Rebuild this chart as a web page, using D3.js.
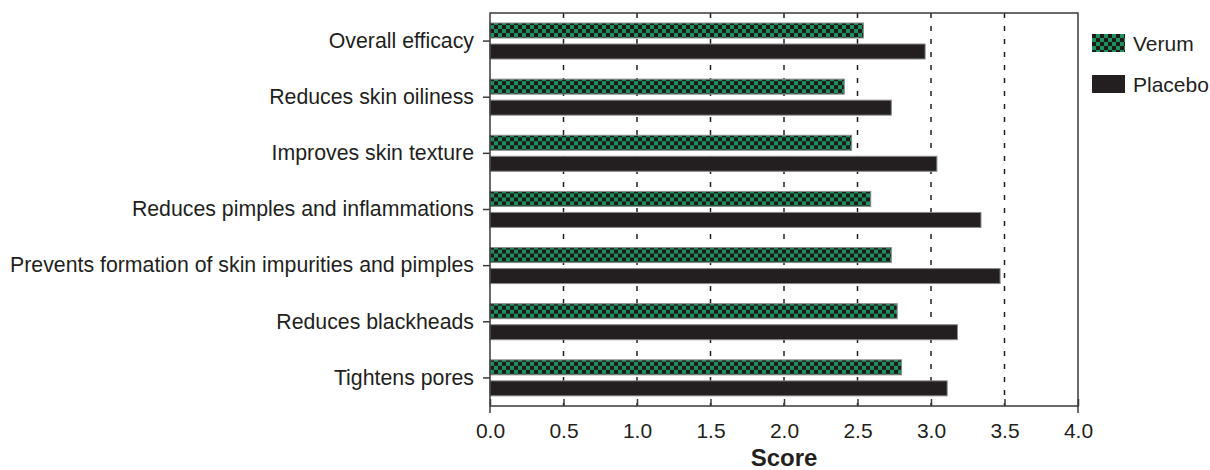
<!DOCTYPE html>
<html>
<head>
<meta charset="utf-8">
<script src="https://cdn.jsdelivr.net/npm/d3@7"></script>
<style>
  body { margin: 0; background: #fff; }
  text { font-family: Arial, "Liberation Sans", sans-serif; fill: #231f20; }
</style>
</head>
<body>
<svg id="chart"></svg>
<script>
// data
var categories = ["Overall efficacy", "Reduces skin oiliness", "Improves skin texture",
    "Reduces pimples and inflammations", "Prevents formation of skin impurities and pimples",
    "Reduces blackheads", "Tightens pores"];
var verum = [2.54, 2.41, 2.46, 2.59, 2.73, 2.77, 2.80];
var placebo = [2.96, 2.73, 3.04, 3.34, 3.47, 3.18, 3.11];
var seriesNames = ["Verum", "Placebo"];
var xTicks = [0, 0.5, 1, 1.5, 2, 2.5, 3, 3.5, 4];

function drawBarChart() {
    var width = 1210, height = 470,
        margin = {top: 13, right: 132, bottom: 64, left: 490},
        w = width - margin.left - margin.right,
        h = height - margin.top - margin.bottom;

    var svg = d3.select("#chart").attr("width", width).attr("height", height);

    // checker pattern for verum
    var pat = svg.append("defs").append("pattern")
        .attr("id", "checker").attr("patternUnits", "userSpaceOnUse")
        .attr("width", 8).attr("height", 8);
    pat.append("rect").attr("width", 8).attr("height", 8).attr("fill", "#1f8f5c");
    pat.append("rect").attr("width", 4).attr("height", 4).attr("fill", "#1c1a1b");
    pat.append("rect").attr("x", 4).attr("y", 4).attr("width", 4).attr("height", 4).attr("fill", "#1c1a1b");

    var g = svg.append("g").attr("transform", "translate(" + margin.left + "," + margin.top + ")");

    var x = d3.scaleLinear().domain([0, 4]).range([0, w]);
    var y = d3.scaleBand().domain(categories).range([0, h]).padding(0);
    var y1 = d3.scaleBand().domain(seriesNames).range([10, 46]).paddingInner(0.286).paddingOuter(0);
    var fill = {"Verum": "url(#checker)", "Placebo": "#231f20"};

    // dashed grid lines
    g.selectAll(".grid").data(xTicks.filter(function (d) { return d > 0 && d < 4; }))
        .enter().append("line")
        .attr("x1", x).attr("x2", x).attr("y1", 0).attr("y2", h)
        .attr("stroke", "#231f20").attr("stroke-width", 1.5)
        .attr("stroke-dasharray", "5,8");

    // bars
    var rows = categories.map(function (c, i) {
        return [{cat: c, s: "Verum", v: verum[i]}, {cat: c, s: "Placebo", v: placebo[i]}];
    });
    g.selectAll(".row").data(rows).enter().append("g")
        .attr("transform", function (d) { return "translate(0," + y(d[0].cat) + ")"; })
        .selectAll("rect").data(function (d) { return d; })
        .enter().append("rect")
        .attr("x", 0)
        .attr("y", function (d) { return y1(d.s); })
        .attr("width", function (d) { return x(d.v); })
        .attr("height", y1.bandwidth())
        .attr("fill", function (d) { return fill[d.s]; })
        .attr("stroke", "#8a8a8a").attr("stroke-width", 1);

    // frame
    g.append("rect").attr("width", w).attr("height", h)
        .attr("fill", "none").attr("stroke", "#3a3a3a").attr("stroke-width", 1.5);
    g.append("line").attr("x1", 0).attr("x2", 0).attr("y1", h).attr("y2", h + 7)
        .attr("stroke", "#3a3a3a").attr("stroke-width", 1.5);
    g.append("line").attr("x1", w).attr("x2", w).attr("y1", h).attr("y2", h + 7)
        .attr("stroke", "#3a3a3a").attr("stroke-width", 1.5);

    // x axis
    var xAxis = g.append("g").attr("transform", "translate(0," + h + ")")
        .call(d3.axisBottom(x).tickValues(xTicks).tickFormat(d3.format(".1f"))
            .tickSizeInner(-7).tickSizeOuter(0).tickPadding(17));
    xAxis.select(".domain").remove();
    xAxis.selectAll("line").attr("stroke", "#3a3a3a").attr("stroke-width", 1.5);
    xAxis.selectAll("text").attr("font-size", 21).attr("font-family", null).attr("fill", "#231f20");

    // y axis
    var yAxis = g.append("g")
        .call(d3.axisLeft(y).tickSizeInner(7).tickSizeOuter(0).tickPadding(9));
    yAxis.select(".domain").remove();
    yAxis.selectAll("line").attr("stroke", "#3a3a3a").attr("stroke-width", 1.5);
    yAxis.selectAll("text").attr("font-size", 21.3).attr("font-family", null).attr("fill", "#231f20");

    // axis title
    svg.append("text").attr("x", margin.left + w / 2).attr("y", 466)
        .attr("text-anchor", "middle").attr("font-size", 24).attr("font-weight", "bold")
        .text("Score");

    // legend
    var leg = svg.append("g").selectAll("g").data(seriesNames).enter().append("g")
        .attr("transform", function (d, i) { return "translate(1092," + (34 + i * 41) + ")"; });
    leg.append("rect").attr("width", 33).attr("height", 18)
        .attr("fill", function (d) { return fill[d]; });
    leg.append("text").attr("x", 41).attr("y", 17).attr("font-size", 21)
        .text(function (d) { return d; });
}
drawBarChart();
</script>
</body>
</html>
